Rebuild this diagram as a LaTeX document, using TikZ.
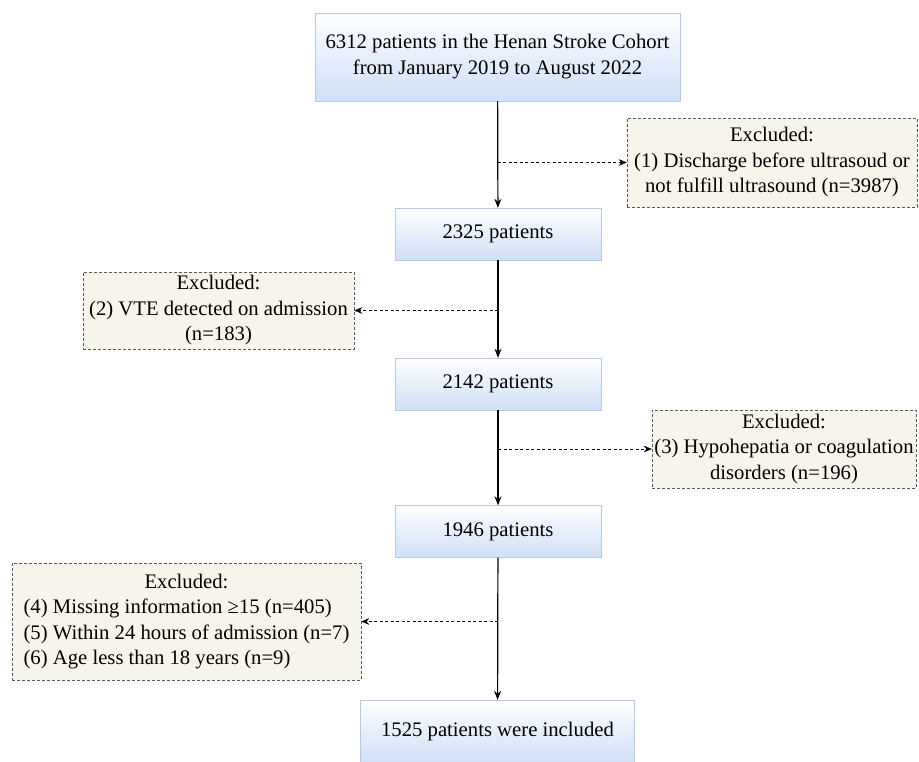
\documentclass[tikz,border=0pt]{standalone}
\usepackage{fontspec}
\setmainfont{LiberationSerif}[Extension=.ttf, UprightFont=*-Regular, BoldFont=*-Bold]
\usetikzlibrary{arrows.meta, positioning}
\definecolor{boxline}{rgb}{0.72, 0.79, 0.89}
\definecolor{boxblue}{rgb}{0.82, 0.88, 0.97}
\definecolor{exfill}{rgb}{0.97, 0.96, 0.92}
\definecolor{exline}{rgb}{0.35, 0.35, 0.35}
\tikzset{
	stage/.style={draw=boxline, top color=white, bottom color=boxblue, middle color=boxblue!55, inner sep=0pt, align=center, font=\fontsize{20.7}{26}\selectfont},
	excl/.style={draw=exline, fill=exfill, dash pattern=on 3pt off 2pt, inner sep=0pt, align=center, font=\fontsize{20.7}{25.5}\selectfont},
	flow/.style={line width=1.2pt, -{Stealth[length=9pt, width=7pt]}},
	side/.style={-{Stealth[length=8pt, width=6.5pt]}, dash pattern=on 3pt off 2.5pt}
}
\begin{document}
\begin{tikzpicture}[x=1pt, y=-1pt]
		\clip (0,0) rectangle (919,761);
		% main stages
		\node [stage, minimum width=365pt, minimum height=88pt] (start) at (497.5,57) {6312 patients in the Henan Stroke Cohort\\from January 2019 to August 2022};
		\node [stage, minimum width=206pt, minimum height=52pt] (p1) at (498,234) {2325 patients};
		\node [stage, minimum width=206pt, minimum height=52pt] (p2) at (498,384) {2142 patients};
		\node [stage, minimum width=206pt, minimum height=52pt] (p3) at (498,531.5) {1946 patients};
		\node [stage, minimum width=274pt, minimum height=64pt] (final) at (497.5,732) {1525 patients were included};
		
		% exclusions
		\node [excl, minimum width=290pt, minimum height=89pt] (ex1) at (772,162.5) {Excluded:\\(1) Discharge before ultrasoud or\\not fulfill ultrasound (n=3987)};
		\node [excl, minimum width=271pt, minimum height=77pt] (ex2) at (218.5,310.5) {Excluded:\\(2) VTE detected on admission\\(n=183)};
		\node [excl, minimum width=264pt, minimum height=78pt] (ex3) at (784,449) {Excluded:\\(3) Hypohepatia or coagulation\\disorders (n=196)};
		\node [excl, minimum width=349pt, minimum height=117pt] (ex4) at (186.5,621.5) {\begin{tabular}{@{}l@{}}\multicolumn{1}{@{}c@{}}{Excluded:}\\(4) Missing information ≥15 (n=405)\\(5) Within 24 hours of admission (n=7)\\(6) Age less than 18 years (n=9)\end{tabular}};
		
		% main arrows
		\draw [flow] (start) -- (p1);
		\draw [flow] (p1) -- (p2);
		\draw [flow] (p2) -- (p3);
		\draw [flow] (p3) -- (final);
		% side arrows
		\draw [side] (ex1.west -| start.south) -- (ex1.west);
		\draw [side] (ex2.east -| p1.south) -- (ex2.east);
		\draw [side] (ex3.west -| p2.south) -- (ex3.west);
		\draw [side] (ex4.east -| p3.south) -- (ex4.east);
	\end{tikzpicture}
\end{document}
